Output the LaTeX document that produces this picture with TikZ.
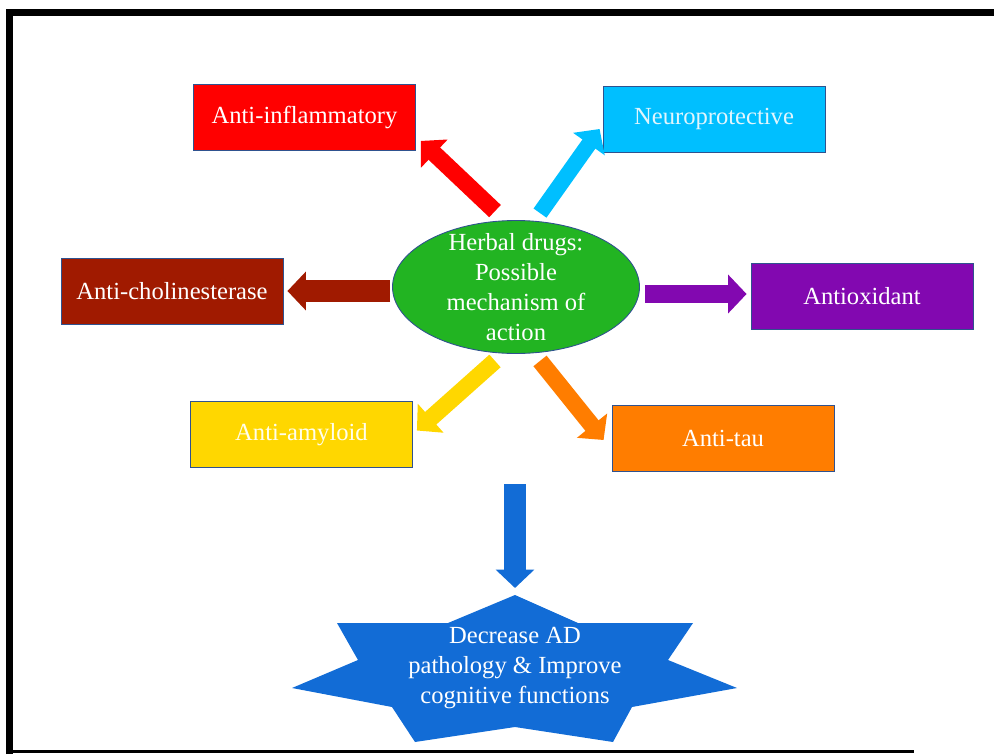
\documentclass[tikz,border=0pt]{standalone}
\usepackage{fontspec}
\setmainfont{Liberation Serif}
\usetikzlibrary{arrows.meta,shapes}
\tikzset {>=Stealth}

\definecolor{inflred}{RGB}{255,0,0}
\definecolor{neurocyan}{RGB}{0,191,255}
\definecolor{cholbrown}{RGB}{160,26,0}
\definecolor{oxidpurple}{RGB}{130,8,176}
\definecolor{amylyellow}{RGB}{255,215,0}
\definecolor{tauorange}{RGB}{255,125,0}
\definecolor{herbgreen}{RGB}{34,180,34}
\definecolor{adblue}{RGB}{18,108,214}
\definecolor{edgeblue}{RGB}{47,82,143}

\begin{document}
\begin{tikzpicture}[x=0.02cm,y=-0.02cm,
  effect/.style={draw=edgeblue,line width=0.5pt,minimum width=4.44cm,minimum height=1.32cm,
    text=white,font=\fontsize{14}{17}\selectfont},
  block/.style={line width=#1,-{Triangle[length=10.5pt,width=21.5pt]}},
  whitetext/.style={text=white,align=center,font=\fontsize{14}{17}\selectfont}]
\useasboundingbox (0,0) rectangle (994,754);
\draw[line width=4pt] (9.5,754) -- (9.5,12.5) -- (994,12.5);
\draw[line width=1.2pt] (9.5,751.5) -- (914,751.5);
\node[effect,fill=inflred] (infl) at (304.5,117.5) {Anti-inflammatory};
\node[effect,fill=neurocyan,text=cyan!12] (neuro) at (714,119) {Neuroprotective};
\node[effect,fill=cholbrown] (chol) at (172,291) {Anti-cholinesterase};
\node[effect,fill=oxidpurple] (oxid) at (862,296) {Antioxidant};
\node[effect,fill=amylyellow,text=yellow!8] (amyl) at (301.5,434.5) {Anti-amyloid};
\node[effect,fill=tauorange] (tau) at (723,438) {Anti-tau};
\node[ellipse,draw=edgeblue,line width=0.5pt,fill=herbgreen,minimum width=4.94cm,
  minimum height=2.66cm,inner sep=0pt] (herb) at (516,287) {};
\node[whitetext] (herbtext) at (herb) {Herbal drugs:\\Possible\\mechanism of\\action};
\draw[block=9.6pt,inflred] ([shift={(-21,-9)}]herb.north) -- ([shift={(5,-10)}]infl.south east);
\draw[block=9pt,neurocyan] ([shift={(24,-7)}]herb.north) -- ([shift={(-3,10)}]neuro.west);
\draw[block=12.5pt,cholbrown] ([shift={(-2,4)}]herb.west) -- ([shift={(4,0)}]chol.east);
\draw[block=10pt,oxidpurple] ([shift={(5,7)}]herb.east) -- ([shift={(-4,-2)}]oxid.west);
\draw[block=9.6pt,amylyellow] ([shift={(-21,7)}]herb.south) -- ([shift={(4,-4)}]amyl.east);
\draw[block=9.6pt,tauorange] ([shift={(24,7)}]herb.south) -- ([shift={(-8,2)}]tau.west);
\coordinate (adtail) at (515,484);
\coordinate (adtop) at (515,595);
\fill[adblue] (adtop) -- (578,623) -- (693,623) -- (668,660) -- (737,688) -- (632,707)
  -- (613,742) -- (515,727) -- (415,742) -- (392,707) -- (292,688) -- (358,660)
  -- (337,623) -- (448,623) -- cycle;
\draw[block=13pt,adblue] (adtail) -- ([shift={(0,-7)}]adtop);
\node[whitetext] (result) at (515,668) {Decrease AD\\pathology \& Improve\\cognitive functions};
\end{tikzpicture}
\end{document}
